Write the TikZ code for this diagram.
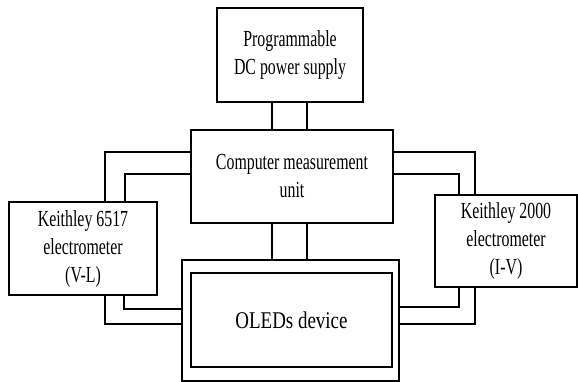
\documentclass[tikz,border=0pt]{standalone}
\usepackage{fontspec}
\newfontfamily\condserif[FakeStretch=0.69]{Liberation Serif}
\newfontfamily\oledserif[FakeStretch=0.79]{Liberation Serif}
\begin{document}
\begin{tikzpicture}[x=1pt,y=1pt,
  box/.style={draw=black,line width=1.1pt,inner sep=0pt,align=center,
    font=\condserif\fontsize{23}{28}\selectfont},
  wire/.style={draw=black,line width=1.1pt}]
\useasboundingbox (0,0) rectangle (578,382);
\node[box,minimum width=146pt,minimum height=94pt] (ps) at (290,327) {Programmable\\DC power supply};
\node[box,minimum width=202pt,minimum height=93pt] (cmu) at (292,205.5) {Computer measurement\\unit};
\node[box,minimum width=148pt,minimum height=93pt] (kl) at (83,133.5) {Keithley 6517\\electrometer\\(V-L)};
\node[box,minimum width=142pt,minimum height=92pt] (kr) at (506,141) {Keithley 2000\\electrometer\\(I-V)};
\node[box,minimum width=217pt,minimum height=121pt] (oledout) at (290.5,61.5) {};
\node[box,minimum width=201pt,minimum height=94pt,font=\oledserif\fontsize{24}{28}\selectfont] (oled) at (291.5,62) {OLEDs device};
% power supply to computer unit
\draw[wire] (ps.south -| 272,0) -- (cmu.north -| 272,0);
\draw[wire] (ps.south -| 307,0) -- (cmu.north -| 307,0);
% computer unit to OLED
\draw[wire] (cmu.south -| 272,0) -- (oledout.north -| 272,0);
\draw[wire] (cmu.south -| 307,0) -- (oledout.north -| 307,0);
% computer unit to left electrometer
\draw[wire] (cmu.west |- 0,230) -| (kl.north -| 105,0);
\draw[wire] (cmu.west |- 0,208) -| (kl.north -| 125,0);
% left electrometer to OLED
\draw[wire] (kl.south -| 105,0) |- (oledout.west |- 0,58);
\draw[wire] (kl.south -| 124,0) |- (oledout.west |- 0,73);
% computer unit to right electrometer
\draw[wire] (cmu.east |- 0,230) -| (kr.north -| 475,0);
\draw[wire] (cmu.east |- 0,208) -| (kr.north -| 459,0);
% right electrometer to OLED
\draw[wire] (kr.south -| 459,0) |- (oledout.east |- 0,75);
\draw[wire] (kr.south -| 475,0) |- (oledout.east |- 0,58);
\end{tikzpicture}
\end{document}
